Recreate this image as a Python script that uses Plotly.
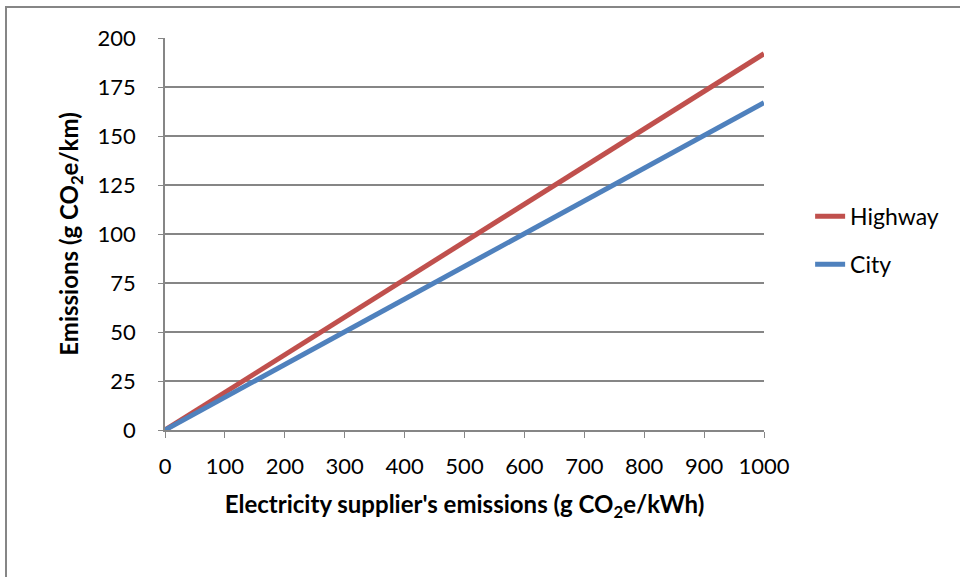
import plotly.graph_objects as go

supplier = [0, 100, 200, 300, 400, 500, 600, 700, 800, 900, 1000]
highway = [0, 19.2, 38.4, 57.6, 76.8, 96.0, 115.2, 134.4, 153.6, 172.8, 192.0]
city = [0, 16.7, 33.4, 50.1, 66.8, 83.5, 100.2, 116.9, 133.6, 150.3, 167.0]
x_ticks = [0, 100, 200, 300, 400, 500, 600, 700, 800, 900, 1000]
y_ticks = [0, 25, 50, 75, 100, 125, 150, 175, 200]

FONT = "Lato, Open Sans, sans-serif"

fig = go.Figure()
fig.add_trace(go.Scatter(x=supplier, y=highway, mode="lines", name="Highway",
                         legendgroup="h",
                         line=dict(color="#C0504D", width=5)))
fig.add_trace(go.Scatter(x=supplier, y=city, mode="lines", name="City",
                         legendgroup="c",
                         line=dict(color="#4F81BD", width=5)))

fig.update_layout(
    width=960, height=577,
    margin=dict(l=165, r=196, t=38, b=147),
    paper_bgcolor="white", plot_bgcolor="white",
    font=dict(family=FONT, size=22, color="black"),
    showlegend=True,
    legend=dict(x=1.077, y=0.60, xanchor="left", yanchor="top",
                font=dict(size=23), tracegroupgap=15,
                bgcolor="rgba(0,0,0,0)"),
    xaxis=dict(range=[0, 1000], tickvals=x_ticks, showgrid=False,
               showline=True, linecolor="#868686", linewidth=1.5,
               ticks="outside", ticklen=6, tickcolor="#868686",
               ticklabelstandoff=10, zeroline=False,
               title=dict(text="Electricity supplier's emissions (g CO<sub>2</sub>e/kWh)",
                          font=dict(size=24, family=FONT, weight="bold"), standoff=18)),
    yaxis=dict(range=[0, 200], tickvals=y_ticks, showgrid=True,
               gridcolor="#868686", gridwidth=1.5,
               showline=True, linecolor="#868686", linewidth=1.5,
               ticks="outside", ticklen=5, tickcolor="#868686",
               ticklabelstandoff=18, zeroline=False,
               title=dict(text="Emissions (g CO<sub>2</sub>e/km)",
                          font=dict(size=24, family=FONT, weight="bold"), standoff=12)),
    shapes=[dict(type="rect", xref="paper", yref="paper",
                 x0=(6 - 165) / 599, x1=(980 - 165) / 599,
                 y0=(430 - 600) / 392, y1=(430 - 7) / 392,
                 line=dict(color="#868686", width=2), layer="below")],
)

fig.write_html("out.html", config={"displayModeBar": False},
               post_script="document.body.style.margin='0px';")
